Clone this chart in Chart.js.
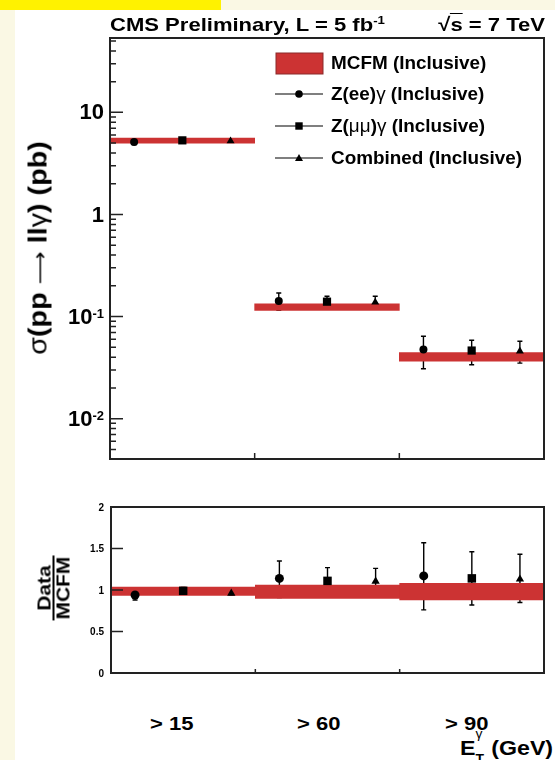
<!DOCTYPE html>
<html>
<head>
<meta charset="utf-8">
<script src="https://cdn.jsdelivr.net/npm/chart.js@4.4.1/dist/chart.umd.min.js"></script>
<style>
body{margin:0;width:555px;height:760px;background:#faf8e4;position:relative;overflow:hidden;
  font-family:"Liberation Sans",Arial,Helvetica,sans-serif;font-weight:bold;color:#000}
#paper{position:absolute;left:15px;top:10px;right:0;bottom:0;background:#fff}
#flag{position:absolute;left:0;top:0;width:221px;height:10px;background:#fff200}
canvas{position:absolute;left:0}
#c1{top:0}
#c2{top:490px}
.t{position:absolute;white-space:nowrap;line-height:1;transform-origin:left top}
.g{font-weight:normal}
sup{font-size:60%;vertical-align:0;position:relative;top:-0.55em}
.rot{position:absolute;width:0;height:0}
.rot>div{position:absolute;white-space:nowrap;line-height:1;transform:translate(-50%,-50%) rotate(-90deg) scaleX(1.15)}
.leg{position:absolute;left:275px}
.leg svg{position:absolute;left:0;top:0}
.leg span{position:absolute;left:56px;top:-9px;font-size:18px;line-height:1;white-space:nowrap;transform:scaleX(1.05);transform-origin:left top}
</style>
</head>
<body>
<div id="paper"></div>
<div id="flag"></div>
<canvas id="c1" width="555" height="470"></canvas>
<canvas id="c2" width="555" height="200"></canvas>

<div class="t" style="left:110px;top:14.5px;font-size:19px;transform:scaleX(1.16)">CMS Preliminary, L = 5 fb<sup>-1</sup></div>
<div class="t" style="right:10px;top:14.5px;font-size:19px;transform:scaleX(1.16);transform-origin:right top">&radic;<span style="border-top:1.5px solid #000;padding-top:0">s</span> = 7 TeV</div>

<div class="rot" style="left:38px;top:248px"><div style="font-size:25px"><span class="g">&sigma;</span>(pp <span class="g" style="font-family:'DejaVu Sans';font-size:20px">&#x27F6;</span> ll<span class="g">&gamma;</span>) (pb)</div></div>
<div class="rot" style="left:54px;top:588px"><div style="font-size:19px;text-align:center;transform:translate(-50%,-50%) rotate(-90deg) scaleX(1.1)">
  <div style="line-height:16px;padding:0 1px">Data</div>
  <div style="line-height:16px;border-top:2px solid #000;padding:1px 1px 0">MCFM</div>
</div></div>

<div class="leg" style="top:63px">
  <svg width="50" height="24" style="top:-11px"><rect x="1" y="1" width="47" height="21" fill="#cc3333" stroke="#8a2a2a" stroke-width="1"/></svg>
  <span>MCFM (Inclusive)</span>
</div>
<div class="leg" style="top:94px">
  <svg width="50" height="12" style="top:-6px"><line x1="0" y1="6" x2="48" y2="6" stroke="#000" stroke-width="1.2"/><circle cx="24" cy="6" r="3.8" fill="#000"/></svg>
  <span>Z(ee)<span class="g" style="position:static;font-size:18px">&gamma;</span> (Inclusive)</span>
</div>
<div class="leg" style="top:126px">
  <svg width="50" height="12" style="top:-6px"><line x1="0" y1="6" x2="48" y2="6" stroke="#000" stroke-width="1.2"/><rect x="20.3" y="2.3" width="7.4" height="7.4" fill="#000"/></svg>
  <span>Z(<span class="g" style="position:static;font-size:18px">&mu;&mu;</span>)<span class="g" style="position:static;font-size:18px">&gamma;</span> (Inclusive)</span>
</div>
<div class="leg" style="top:157.5px">
  <svg width="50" height="12" style="top:-6px"><line x1="0" y1="6" x2="48" y2="6" stroke="#000" stroke-width="1.2"/><polygon points="24,2 28,9 20,9" fill="#000"/></svg>
  <span>Combined (Inclusive)</span>
</div>

<div class="t" style="left:150px;top:713.5px;font-size:19px;transform:scaleX(1.16)">&gt; 15</div>
<div class="t" style="left:297px;top:713.5px;font-size:19px;transform:scaleX(1.16)">&gt; 60</div>
<div class="t" style="left:445px;top:713.5px;font-size:19px;transform:scaleX(1.16)">&gt; 90</div>
<div class="t" style="left:460px;top:738px;font-size:20px;transform:scaleX(1.16)">E<span style="display:inline-block;position:relative;width:8px;height:1px"><span class="g" style="position:absolute;left:0;top:-26px;font-size:12px">&gamma;</span><span style="position:absolute;left:0;top:-1px;font-size:12px">T</span></span> (GeV)</div>

<script>
// bins of photon ET
const bins = ['> 15', '> 60', '> 90'];
const binCenters = [0.5, 1.5, 2.5];

// cross section (pb)
const mcfmLow  = [5.00, 0.115, 0.0366];
const mcfmHigh = [5.61, 0.133, 0.0445];
const ee     = [5.13, 0.1425, 0.0476];
const eeLow  = [4.85, 0.115, 0.0308];
const eeHigh = [5.45, 0.170, 0.0641];
const mm     = [5.32, 0.140, 0.0465];
const mmLow  = [5.12, 0.120, 0.0337];
const mmHigh = [5.55, 0.158, 0.0586];
const comb     = [5.24, 0.138, 0.0458];
const combLow  = [5.10, 0.125, 0.0350];
const combHigh = [5.40, 0.158, 0.0573];

// data / MCFM
const rMcfmLow  = [0.935, 0.90, 0.88];
const rMcfmHigh = [1.035, 1.06, 1.08];
const rEe     = [0.94, 1.14, 1.17];
const rEeLow  = [0.88, 0.91, 0.76];
const rEeHigh = [1.00, 1.35, 1.57];
const rMm     = [0.99, 1.11, 1.14];
const rMmLow  = [0.95, 0.95, 0.82];
const rMmHigh = [1.03, 1.27, 1.46];
const rComb     = [0.96, 1.105, 1.13];
const rCombLow  = [0.94, 0.98, 0.85];
const rCombHigh = [0.98, 1.26, 1.43];

const upperTicks = [10, 1, 0.1, 0.01];
const upperTickText = [['10',''], ['1',''], ['10','-1'], ['10','-2']];
const lowerTicks = [0, 0.5, 1, 1.5, 2];

const shift = [-1/3, 0, 1/3];   // position of ee, mumu, combined inside a bin
const font = '"Liberation Sans", Arial, sans-serif';

function pts(vals, k){ return vals.map((v,i)=>({x: binCenters[i] + shift[k], y: v})) }
function band(lo, hi){ return lo.map((v,i)=>({x: binCenters[i], y: [v, hi[i]]})) }

function sets(mLo, mHi, a, aLo, aHi, b, bLo, bHi, c, cLo, cHi, sz){
  return [
    {type:'scatter', data:pts(a,0), errLo:aLo, errHi:aHi, pointStyle:'circle', pointRadius:sz[0], backgroundColor:'#000', borderColor:'#000', borderWidth:0, order:0},
    {type:'scatter', data:pts(b,1), errLo:bLo, errHi:bHi, pointStyle:'rect', pointRadius:sz[1], backgroundColor:'#000', borderColor:'#000', borderWidth:0, order:0},
    {type:'scatter', data:pts(c,2), errLo:cLo, errHi:cHi, pointStyle:'triangle', pointRadius:sz[2], backgroundColor:'#000', borderColor:'#000', borderWidth:0, order:0},
    {type:'bar', data:band(mLo,mHi), backgroundColor:'#cc3333', borderWidth:0, barPercentage:1, categoryPercentage:1, order:10}
  ];
}

// error bars, frame, ticks and tick labels
const rootStyle = {
  id:'rootStyle',
  beforeDatasetsDraw(chart){
    const {ctx, scales:{x,y}} = chart;
    ctx.save();
    ctx.strokeStyle = '#000';
    ctx.lineWidth = 1.4;
    chart.data.datasets.forEach(ds=>{
      if(!ds.errLo) return;
      ds.data.forEach((p,j)=>{
        const px = x.getPixelForValue(p.x);
        const y1 = y.getPixelForValue(ds.errLo[j]), y2 = y.getPixelForValue(ds.errHi[j]);
        ctx.beginPath();
        ctx.moveTo(px,y1); ctx.lineTo(px,y2);
        ctx.moveTo(px-2.5,y1); ctx.lineTo(px+2.5,y1);
        ctx.moveTo(px-2.5,y2); ctx.lineTo(px+2.5,y2);
        ctx.stroke();
      });
    });
    ctx.restore();
  },
  afterDraw(chart, args, o){
    const {ctx, chartArea:a, scales:{x,y}} = chart;
    ctx.save();
    ctx.strokeStyle = '#222';
    ctx.lineWidth = 1.5;
    ctx.beginPath();
    if(o.log){
      for(let e=-3;e<=1;e++){
        for(let m=1;m<=9;m++){
          const v = m*Math.pow(10,e);
          if(v < y.min || v > y.max) continue;
          const py = y.getPixelForValue(v);
          ctx.moveTo(a.left, py); ctx.lineTo(a.left + (m===1?13:6), py);
        }
      }
    } else {
      lowerTicks.forEach(v=>{
        const py = y.getPixelForValue(v);
        ctx.moveTo(a.left, py); ctx.lineTo(a.left + 12, py);
      });
    }
    [1,2].forEach(v=>{
      const px = x.getPixelForValue(v);
      ctx.moveTo(px, a.bottom); ctx.lineTo(px, a.bottom - o.xTick);
    });
    ctx.stroke();
    ctx.lineWidth = 2;
    ctx.strokeRect(a.left, a.top, a.right - a.left, a.bottom - a.top);

    ctx.fillStyle = '#000';
    ctx.textAlign = 'right';
    if(o.log){
      upperTicks.forEach((v,i)=>{
        const py = y.getPixelForValue(v);
        const [base, sup] = upperTickText[i];
        ctx.font = 'bold 13px ' + font;
        ctx.textBaseline = 'top';
        const sw = sup ? ctx.measureText(sup).width : 0;
        if(sup) ctx.fillText(sup, a.left - 6, py - 9);
        ctx.font = 'bold 22px ' + font;
        ctx.textBaseline = 'middle';
        ctx.fillText(base, a.left - 6 - sw, py + 1);
      });
    } else {
      ctx.font = 'bold 10px ' + font;
      ctx.textBaseline = 'middle';
      lowerTicks.forEach(v=>{
        ctx.fillText(String(v), a.left - 7, y.getPixelForValue(v) + 1);
      });
    }
    ctx.restore();
  }
};

Chart.defaults.animation = false;

new Chart(document.getElementById('c1'), {
  data: {datasets: sets(mcfmLow, mcfmHigh, ee, eeLow, eeHigh, mm, mmLow, mmHigh, comb, combLow, combHigh, [4, 5.8, 4.6])},
  options: {
    responsive:false,
    layout:{padding:{left:110, right:11, top:38, bottom:11}},
    scales:{
      x:{type:'linear', min:0, max:3, offset:false, ticks:{stepSize:1}, display:false},
      y:{type:'logarithmic', min:0.00403, max:53.5, display:false}
    },
    plugins:{legend:{display:false}, tooltip:{enabled:false}, rootStyle:{log:true, xTick:6}}
  },
  plugins:[rootStyle]
});

new Chart(document.getElementById('c2'), {
  data: {datasets: sets(rMcfmLow, rMcfmHigh, rEe, rEeLow, rEeHigh, rMm, rMmLow, rMmHigh, rComb, rCombLow, rCombHigh, [4.5, 6, 4.8])},
  options: {
    responsive:false,
    layout:{padding:{left:111, right:11, top:17, bottom:17}},
    scales:{
      x:{type:'linear', min:0, max:3, offset:false, ticks:{stepSize:1}, display:false},
      y:{type:'linear', min:0, max:2, display:false}
    },
    plugins:{legend:{display:false}, tooltip:{enabled:false}, rootStyle:{log:false, xTick:4}}
  },
  plugins:[rootStyle]
});
</script>
</body>
</html>
